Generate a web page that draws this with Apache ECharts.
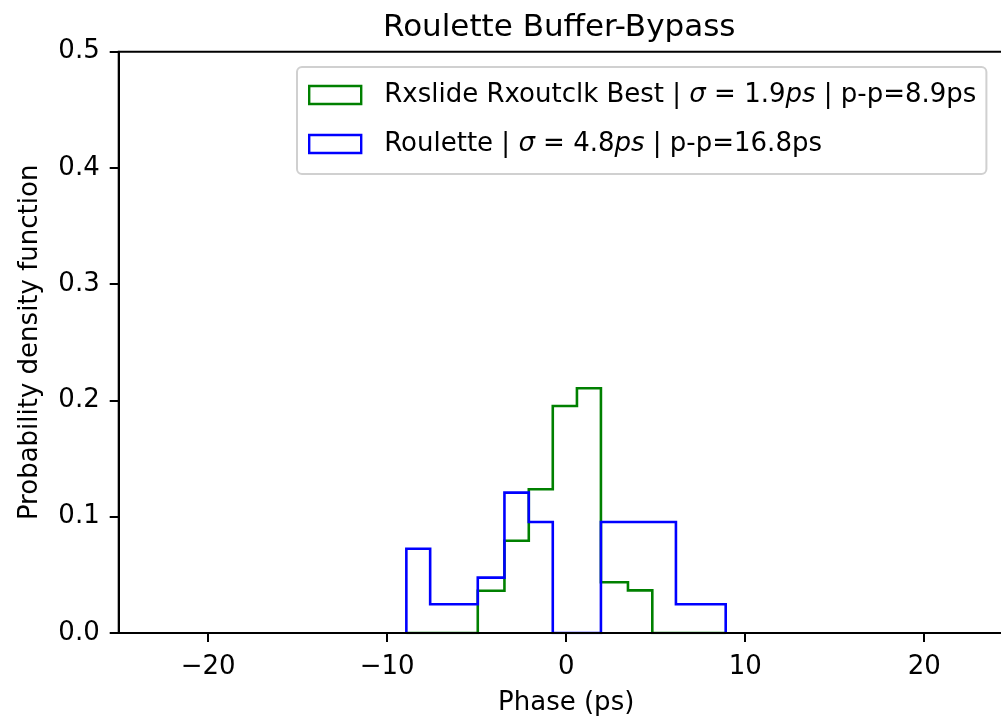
<!DOCTYPE html>
<html>
<head>
<meta charset="utf-8">
<script src="https://cdn.jsdelivr.net/npm/echarts@6/dist/echarts.min.js"></script>
<style>
  html, body { margin: 0; padding: 0; background: #fff; }
  #chart { width: 1001px; height: 718px; }
</style>
</head>
<body>
<div id="chart"></div>
<script>
// bin edges (ps) and pdf heights
var binEdges = [-8.93, -7.60, -4.94, -3.45, -2.09, -0.75, 0.60, 1.94, 3.45, 4.81, 6.13, 8.91];
var greenPdf = [0, 0, 0.0364, 0.0794, 0.1236, 0.1953, 0.2105, 0.0436, 0.0367, 0, 0];
var bluePdf = [0.0725, 0.0247, 0.0476, 0.1207, 0.0955, 0, 0, 0.0955, 0.0955, 0.0955, 0.0247];
var seriesNames = ['Rxslide Rxoutclk Best', 'Roulette'];
var sigmas = ['1.9', '4.8'];
var peakToPeak = ['8.9', '16.8'];
var xTicks = [-20, -10, 0, 10, 20];

(function () {
  var font = 'DejaVu Sans';
  var chart = echarts.init(document.getElementById('chart'), null, { renderer: 'canvas' });

  // histtype='step' outline: up at first edge, across each bin, down at the last edge
  function stepOutline(edges, h) {
    var pts = [[edges[0], 0]];
    for (var i = 0; i < h.length; i++) {
      pts.push([edges[i], h[i]]);
      pts.push([edges[i + 1], h[i]]);
    }
    pts.push([edges[edges.length - 1], 0]);
    return pts;
  }

  function legendLabel(i) {
    return seriesNames[i] + ' | {i|σ} = ' + sigmas[i] + '{i|ps} | p-p=' + peakToPeak[i] + 'ps';
  }

  var colors = ['#008000', '#0000ff'];
  var pdfs = [greenPdf, bluePdf];

  chart.setOption({
    animation: false,
    backgroundColor: '#fff',
    textStyle: { fontFamily: font },
    title: {
      text: 'Roulette Buffer-Bypass',
      left: 383,
      top: 12,
      padding: 0,
      textStyle: { fontFamily: font, fontSize: 31, fontWeight: 'normal', color: '#000' }
    },
    legend: {
      orient: 'vertical',
      left: 297,
      top: 67,
      padding: [13, 10, 15, 11],
      itemWidth: 52,
      itemHeight: 18,
      itemGap: 19,
      backgroundColor: '#fff',
      borderColor: '#d0d0d0',
      borderWidth: 2,
      borderRadius: 5,
      data: seriesNames.map(function (n, i) {
        return {
          name: n,
          icon: 'rect',
          itemStyle: { color: 'rgba(255,255,255,0)', borderColor: colors[i], borderWidth: 2.4 }
        };
      }),
      formatter: function (name) { return legendLabel(seriesNames.indexOf(name)); },
      textStyle: {
        fontFamily: font, fontSize: 26, color: '#000', lineHeight: 30, padding: [0, 0, 0, 18],
        rich: { i: { fontFamily: font, fontSize: 26, fontStyle: 'italic', color: '#000', lineHeight: 30 } }
      }
    },
    grid: {
      left: 118.7,
      top: 51.7,
      width: 895,
      bottom: 85,
      outerBoundsMode: 'none',
      containLabel: false,
      show: true,
      borderColor: '#000',
      borderWidth: 2
    },
    xAxis: {
      type: 'value',
      min: -25,
      max: 25,
      z: 10,
      name: 'Phase (ps)',
      nameLocation: 'middle',
      nameGap: 57,
      nameTextStyle: { fontFamily: font, fontSize: 26, color: '#000' },
      axisLine: { show: true, onZero: false, lineStyle: { color: '#000', width: 2 } },
      axisTick: { show: true, length: 9, customValues: xTicks, lineStyle: { color: '#000', width: 2 } },
      axisLabel: {
        customValues: xTicks,
        margin: 21,
        fontFamily: font, fontSize: 26, color: '#000',
        formatter: function (v) { return v < 0 ? '\u2212' + Math.abs(v) : String(v); }
      },
      splitLine: { show: false }
    },
    yAxis: {
      type: 'value',
      min: 0,
      max: 0.5,
      interval: 0.1,
      z: 10,
      name: 'Probability density function',
      nameLocation: 'middle',
      nameGap: 75,
      nameTextStyle: { fontFamily: font, fontSize: 26, color: '#000' },
      axisLine: { show: true, onZero: false, lineStyle: { color: '#000', width: 2 } },
      axisTick: { show: true, length: 9, lineStyle: { color: '#000', width: 2 } },
      axisLabel: {
        margin: 19,
        fontFamily: font, fontSize: 26, color: '#000',
        formatter: function (v) { return v.toFixed(1); }
      },
      splitLine: { show: false }
    },
    series: seriesNames.map(function (n, i) {
      return {
        name: n,
        type: 'line',
        data: stepOutline(binEdges, pdfs[i]),
        showSymbol: false,
        symbol: 'none',
        color: colors[i],
        lineStyle: { color: colors[i], width: 2.6, join: 'miter', cap: 'butt' },
        z: 2
      };
    })
  });
})();
</script>
</body>
</html>
